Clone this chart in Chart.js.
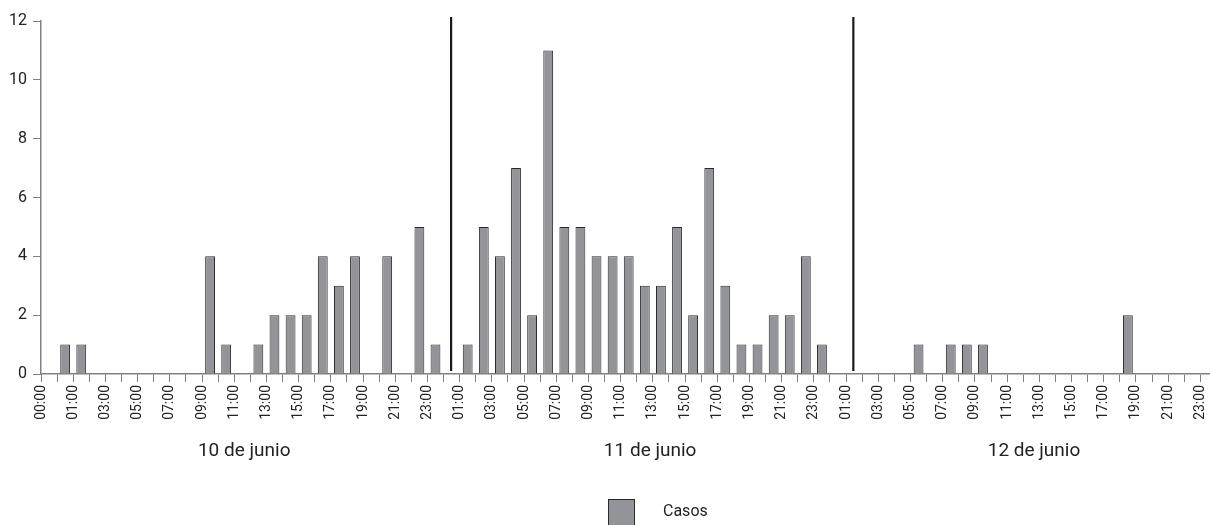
<!DOCTYPE html>
<html>
<head>
<meta charset="utf-8">
<script src="https://cdn.jsdelivr.net/npm/chart.js@4"></script>
<style>
  html, body { margin: 0; padding: 0; background: #fff; }
  #wrap { width: 1210px; height: 525px; position: relative; }
</style>
</head>
<body>
<div id="wrap"><canvas id="myChart"></canvas></div>
<script>
// Casos por hora, 10 a 12 de junio (72 horas)
const casos = [
  0, 1, 1, 0, 0, 0, 0, 0, 0, 0,
  4, 1, 0, 1, 2, 2, 2, 4, 3, 4,
  0, 4, 0, 5, 1, 0, 1, 5, 4, 7,
  2, 11, 5, 5, 4, 4, 4, 3, 3, 5,
  2, 7, 3, 1, 1, 2, 2, 4, 1, 0,
  0, 0, 0, 0, 1, 0, 1, 1, 1, 0,
  0, 0, 0, 0, 0, 0, 0, 2, 0, 0,
  0, 0,
];

// etiquetas del eje x (una cada dos marcas)
const horasDia = ["01:00", "03:00", "05:00", "07:00", "09:00", "11:00",
  "13:00", "15:00", "17:00", "19:00", "21:00", "23:00"];
const etiquetasX = ["00:00", ...horasDia, ...horasDia, ...horasDia];

const dias = ["10 de junio", "11 de junio", "12 de junio"];
const posDias = [12.62, 37.83, 61.67];   // centro del texto, en horas
const cortes = [25.47, 50.45];           // lineas verticales, en horas
const serie = "Casos";

const colorBarra = "rgb(147, 148, 153)";
const colorBorde = "#2b2b2b";
const colorEje = "#808080";
const colorTexto = "#222";

const extras = {
  id: "extras",
  afterDraw(chart) {
    const { ctx, scales: { x, y } } = chart;
    ctx.save();
    // separadores de dia
    ctx.strokeStyle = "#1a1a1a";
    ctx.lineWidth = 2.2;
    cortes.forEach((v) => {
      const px = x.getPixelForValue(v);
      ctx.beginPath();
      ctx.moveTo(px, y.getPixelForValue(12.14));
      ctx.lineTo(px, y.getPixelForValue(0.1));
      ctx.stroke();
    });
    // nombres de los dias
    ctx.fillStyle = colorTexto;
    ctx.font = "19px Roboto";
    ctx.textAlign = "center";
    ctx.textBaseline = "alphabetic";
    dias.forEach((d, i) => ctx.fillText(d, x.getPixelForValue(posDias[i]), 456));
    // leyenda
    ctx.fillStyle = colorBarra;
    ctx.fillRect(608.5, 499.5, 26, 27);
    ctx.strokeStyle = colorBorde;
    ctx.lineWidth = 1;
    ctx.strokeRect(608.5, 499.5, 26, 27);
    ctx.fillStyle = colorTexto;
    ctx.font = "16px Roboto";
    ctx.textAlign = "left";
    ctx.textBaseline = "middle";
    ctx.fillText(serie, 663, 512);
    ctx.restore();
  },
};

const ctx = document.getElementById("myChart");
const myChart = new Chart(ctx, {
  type: "bar",
  data: {
    datasets: [
      {
        label: serie,
        data: casos.map((v, i) => ({ x: i + 0.5, y: v })),
        backgroundColor: colorBarra,
        borderColor: colorBorde,
        borderWidth: (c) => (c.raw && c.raw.y === 0 ? 0 : 1),
        categoryPercentage: 1,
        barPercentage: 0.61,
      },
    ],
  },
  options: {
    responsive: true,
    maintainAspectRatio: false,
    animation: false,
    layout: { padding: { top: 21, right: 0, left: 0, bottom: 105 } },
    plugins: {
      legend: { display: false },
      tooltip: { enabled: false },
    },
    scales: {
      x: {
        type: "linear",
        offset: false,
        min: 0,
        max: 72.6,
        afterBuildTicks: (axis) => {
          axis.ticks = etiquetasX.flatMap((_, k) =>
            k < etiquetasX.length - 1 ? [{ value: 2 * k }, { value: 2 * k + 1 }] : [{ value: 2 * k }]
          );
        },
        afterFit: (axis) => {
          axis.paddingLeft = 0;
          axis.paddingRight = 0;
          axis.height = 46;
        },
        grid: {
          offset: false,
          drawOnChartArea: false,
          drawTicks: true,
          tickLength: 8,
          color: colorEje,
          lineWidth: 1,
        },
        border: { color: colorEje, width: 1.5 },
        ticks: {
          autoSkip: false,
          maxRotation: 90,
          minRotation: 90,
          padding: 3,
          color: colorTexto,
          font: { family: "Roboto", size: 14 },
          callback: (v) => (v % 2 === 0 ? etiquetasX[v / 2] : ""),
        },
      },
      y: {
        min: 0,
        max: 12,
        afterFit: (axis) => {
          axis.width = 41;
        },
        grid: {
          drawOnChartArea: false,
          drawTicks: true,
          tickLength: 8,
          color: colorEje,
          lineWidth: 1,
        },
        border: { color: colorEje, width: 1.5 },
        ticks: {
          stepSize: 2,
          padding: 6,
          color: colorTexto,
          font: { family: "Roboto", size: 16 },
        },
      },
    },
  },
  plugins: [extras],
});
</script>
</body>
</html>
